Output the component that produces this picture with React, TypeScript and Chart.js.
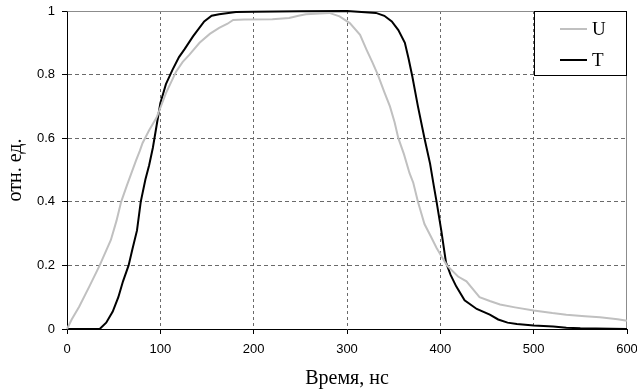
import React, { useEffect, useRef } from "react";
import { Chart, registerables } from "chart.js";

Chart.register(...registerables);

// Time, ns — series U (gray)
const uX = [0, 5, 13, 24, 35, 47, 53, 58, 64, 69, 74, 78, 81, 88, 96, 106, 117, 124, 131, 142, 153, 163, 172, 178, 190, 220, 238, 248, 256, 281, 292, 303, 314, 321, 327, 333, 340, 346, 351, 355, 361, 367, 371, 376, 383, 390, 396, 402, 407, 419, 428, 442, 453, 464, 480, 500, 520, 535, 555, 571, 590, 600];
const uY = [0, 0.03, 0.07, 0.134, 0.2, 0.28, 0.34, 0.4, 0.45, 0.49, 0.53, 0.56, 0.585, 0.625, 0.665, 0.742, 0.81, 0.84, 0.862, 0.9, 0.928, 0.947, 0.96, 0.972, 0.973, 0.974, 0.978, 0.985, 0.99, 0.994, 0.983, 0.962, 0.925, 0.878, 0.84, 0.8, 0.745, 0.7, 0.65, 0.6, 0.55, 0.49, 0.46, 0.4, 0.33, 0.29, 0.255, 0.225, 0.2, 0.165, 0.15, 0.1, 0.088, 0.077, 0.068, 0.058, 0.05, 0.045, 0.04, 0.037, 0.031, 0.026];

// Time, ns — series T (black)
const tX = [0, 35, 42, 49, 55, 60, 66, 70, 75, 79, 84, 88, 92, 96, 100, 106, 113, 120, 126, 135, 147, 155, 163, 181, 200, 250, 300, 331, 340, 348, 355, 362, 366, 370, 376, 383, 389, 393, 396, 401, 406, 411, 417, 426, 439, 453, 462, 472, 482, 500, 521, 535, 550, 600];
const tY = [0, 0, 0.02, 0.055, 0.1, 0.15, 0.2, 0.25, 0.31, 0.4, 0.47, 0.515, 0.57, 0.64, 0.71, 0.77, 0.815, 0.855, 0.88, 0.92, 0.967, 0.985, 0.99, 0.997, 0.998, 0.999, 1, 0.994, 0.985, 0.967, 0.94, 0.9, 0.85, 0.794, 0.7, 0.6, 0.52, 0.45, 0.4, 0.31, 0.21, 0.17, 0.134, 0.09, 0.063, 0.045, 0.03, 0.02, 0.016, 0.011, 0.008, 0.004, 0.002, 0];

const seriesNames = ["U", "T"];
const seriesColors = ["#c0c0c0", "#000000"];
const xTitle = "Время, нс";
const yTitle = "отн. ед.";

const frameAndLegend = {
  id: "frameAndLegend",
  beforeDatasetsDraw(chart: any) {
    const { ctx, chartArea } = chart;
    ctx.save();
    ctx.strokeStyle = "#8c8c8c";
    ctx.lineWidth = 1;
    ctx.beginPath();
    ctx.moveTo(Math.round(chartArea.left) + 0.5, Math.round(chartArea.top) + 0.5);
    ctx.lineTo(Math.round(chartArea.right) - 0.5, Math.round(chartArea.top) + 0.5);
    ctx.lineTo(Math.round(chartArea.right) - 0.5, Math.round(chartArea.bottom));
    ctx.stroke();
    ctx.restore();
  },
  afterDraw(chart: any) {
    const { ctx, chartArea } = chart;
    const w = 93;
    const h = 64;
    const left = Math.round(chartArea.right - w);
    const top = Math.round(chartArea.top);
    ctx.save();
    ctx.fillStyle = "#ffffff";
    ctx.fillRect(left, top, w, h);
    ctx.strokeStyle = "#000000";
    ctx.lineWidth = 1;
    ctx.strokeRect(left + 0.5, top + 0.5, w - 1, h);
    seriesNames.forEach((name, i) => {
      const y = top + 18 + i * 31;
      ctx.strokeStyle = seriesColors[i];
      ctx.lineWidth = 2;
      ctx.beginPath();
      ctx.moveTo(left + 26, y);
      ctx.lineTo(left + 53, y);
      ctx.stroke();
      ctx.fillStyle = "#000000";
      ctx.font = '19px "Liberation Serif", "Times New Roman", serif';
      ctx.textBaseline = "middle";
      ctx.textAlign = "left";
      ctx.fillText(name, left + 58, y + 1);
    });
    ctx.restore();
  },
};

export default function App() {
  const ref = useRef<HTMLCanvasElement | null>(null);

  useEffect(() => {
    document.body.style.margin = "0";
    if (!ref.current) return;
    const gridColor = (c: any, max: number) =>
      c.tick && (c.tick.value === 0 || c.tick.value === max) ? "rgba(0,0,0,0)" : "#6a6a6a";
    const chart = new Chart(ref.current, {
      type: "line",
      data: {
        datasets: [
          {
            label: seriesNames[0],
            data: uX.map((x, i) => ({ x, y: uY[i] })),
            borderColor: seriesColors[0],
            borderWidth: 2,
            pointRadius: 0,
            tension: 0,
            fill: false,
            clip: 4,
          },
          {
            label: seriesNames[1],
            data: tX.map((x, i) => ({ x, y: tY[i] })),
            borderColor: seriesColors[1],
            borderWidth: 2,
            pointRadius: 0,
            tension: 0,
            fill: false,
            clip: 4,
          },
        ],
      },
      options: {
        animation: false,
        responsive: false,
        maintainAspectRatio: false,
        layout: { padding: { top: 11, right: 10, left: 0, bottom: 0 } },
        plugins: {
          legend: { display: false },
          tooltip: { enabled: false },
        },
        scales: {
          x: {
            type: "linear",
            min: 0,
            max: 600,
            ticks: {
              stepSize: 100,
              padding: 8,
              color: "#000",
              font: { family: '"Liberation Sans", Arial, sans-serif', size: 13 },
              maxRotation: 0,
            },
            grid: {
              color: (c: any) => gridColor(c, 600),
              tickColor: "#000",
              tickLength: 5,
              lineWidth: 1,
            },
            border: { display: true, color: "#000", width: 1, dash: [3, 3] },
            title: {
              display: true,
              text: xTitle,
              color: "#000",
              font: { family: '"Liberation Serif", "Times New Roman", serif', size: 20 },
              padding: { top: 0, bottom: 0 },
            },
            afterFit: (s: any) => {
              s.height = 62;
              s.paddingLeft = 0;
              s.paddingRight = 0;
            },
          },
          y: {
            type: "linear",
            min: 0,
            max: 1,
            ticks: {
              stepSize: 0.2,
              padding: 7,
              color: "#000",
              font: { family: '"Liberation Sans", Arial, sans-serif', size: 13 },
              callback: (v: any) => String(Math.round(Number(v) * 10) / 10),
            },
            grid: {
              color: (c: any) => gridColor(c, 1),
              tickColor: "#000",
              tickLength: 5,
              lineWidth: 1,
            },
            border: { display: true, color: "#000", width: 1, dash: [4, 3] },
            title: {
              display: true,
              text: yTitle,
              color: "#000",
              font: { family: '"Liberation Serif", "Times New Roman", serif', size: 20 },
              padding: { top: 4, bottom: 0 },
            },
            afterFit: (s: any) => {
              s.width = 67;
              s.paddingTop = 0;
              s.paddingBottom = 0;
            },
          },
        },
      },
      plugins: [frameAndLegend],
    });
    return () => chart.destroy();
  }, []);

  return (
    <div style={{ width: 637, height: 391, background: "#fff" }}>
      <canvas ref={ref} width={637} height={391} style={{ display: "block" }} />
    </div>
  );
}
